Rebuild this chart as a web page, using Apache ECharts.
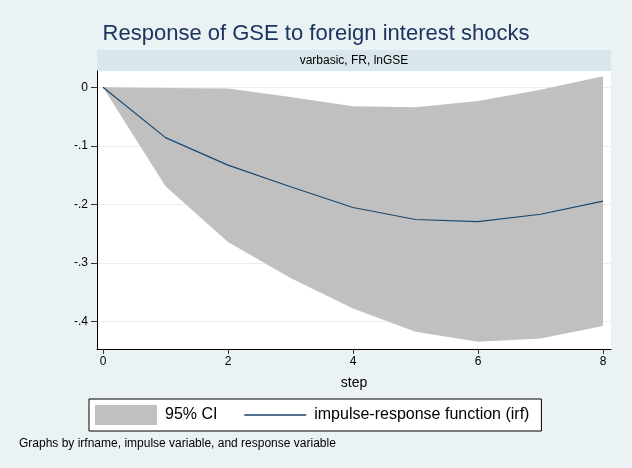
<!DOCTYPE html>
<html>
<head>
<meta charset="utf-8">
<script src="https://cdn.jsdelivr.net/npm/echarts@6/dist/echarts.min.js"></script>
<style>
  html, body { margin: 0; padding: 0; background: #EAF2F3; }
  #main { width: 632px; height: 468px; }
</style>
</head>
<body>
<div id="main"></div>
<script>
// irf step values
const steps = [0, 1, 2, 3, 4, 5, 6, 7, 8];
const irf = [0, -0.086, -0.133, -0.170, -0.2055, -0.226, -0.2295, -0.217, -0.1945];
const upper = [0, -0.001, -0.002, -0.0165, -0.0325, -0.034, -0.0235, -0.004, 0.0188];
const lower = [0, -0.169, -0.2645, -0.326, -0.378, -0.418, -0.435, -0.4296, -0.408];
const yTicks = [-0.4, -0.3, -0.2, -0.1, 0];
const xTicks = [0, 2, 4, 6, 8];

const FONT = 'Liberation Sans, Arial, sans-serif';
const NAVY = '#1A476F';
const TITLE = '#1E3460';
const BAND = '#C0C0C0';

const fmtY = v => (v === 0 ? '0' : v.toFixed(1).replace('0.', '.'));

// CI band as one polygon: upper edge forward, lower edge back
function renderBand(params, api) {
  if (params.dataIndex !== 0) return;
  const top = steps.map((s, i) => api.coord([s, upper[i]]));
  const bot = steps.map((s, i) => api.coord([s, lower[i]])).reverse();
  return {
    type: 'polygon',
    shape: { points: top.concat(bot) },
    style: { fill: BAND }
  };
}

const chart = echarts.init(document.getElementById('main'), null, { renderer: 'canvas' });

chart.setOption({
  backgroundColor: '#EAF2F3',
  animation: false,
  textStyle: { fontFamily: FONT },
  title: {
    text: 'Response of GSE to foreign interest shocks',
    left: 'center',
    top: 18,
    textStyle: { color: TITLE, fontSize: 22, fontWeight: 'normal', fontFamily: FONT }
  },
  graphic: [
    {
      type: 'rect',
      shape: { x: 97, y: 50, width: 514, height: 21 },
      style: { fill: '#D9E6EB' },
      z: 0
    },
    {
      type: 'text',
      x: 354, y: 60.5,
      style: {
        text: 'varbasic, FR, lnGSE', fill: '#000', fontSize: 12, fontFamily: FONT,
        align: 'center', verticalAlign: 'middle'
      }
    },
    {
      type: 'text',
      x: 19, y: 444,
      style: {
        text: 'Graphs by irfname, impulse variable, and response variable', fill: '#000',
        fontSize: 12, fontFamily: FONT, verticalAlign: 'middle'
      }
    }
  ],
  grid: {
    left: 97, top: 71, width: 514, height: 278,
    show: true, backgroundColor: '#FFFFFF', borderWidth: 0
  },
  legend: {
    left: 89, top: 399,
    padding: [6, 12, 6, 6],
    itemWidth: 62, itemHeight: 20, itemGap: 26,
    borderColor: '#000', borderWidth: 1, backgroundColor: '#FFFFFF',
    textStyle: { fontSize: 16, color: '#000', fontFamily: FONT, padding: [0, 0, 0, 3] },
    data: [
      { name: '95% CI', icon: 'rect', itemStyle: { color: BAND } },
      { name: 'impulse-response function (irf)', itemStyle: { opacity: 0 }, lineStyle: { width: 1.5 } }
    ]
  },
  xAxis: {
    type: 'value',
    min: -0.096, max: 8.128,
    name: 'step', nameLocation: 'middle', nameGap: 27,
    nameTextStyle: { fontSize: 14, color: '#000', fontFamily: FONT },
    axisLine: { show: true, onZero: false, lineStyle: { color: '#000', width: 1 } },
    axisTick: { show: true, length: 5, customValues: xTicks, lineStyle: { color: '#333' } },
    axisLabel: { customValues: xTicks, margin: 7, fontSize: 12, color: '#000', fontFamily: FONT },
    splitLine: { show: false }
  },
  yAxis: {
    type: 'value',
    min: -0.4474, max: 0.0279,
    axisLine: { show: true, onZero: false, lineStyle: { color: '#000', width: 1 } },
    axisTick: { show: true, length: 6, customValues: yTicks, lineStyle: { color: '#333' } },
    axisLabel: { customValues: yTicks, margin: 9, fontSize: 12, color: '#000', fontFamily: FONT, formatter: fmtY },
    splitLine: { show: true, customValues: yTicks, lineStyle: { color: '#E6EFF1', width: 1 } }
  },
  series: [
    {
      name: '95% CI',
      type: 'custom',
      data: steps.map((s, i) => [s, upper[i], lower[i]]),
      encode: { x: 0, y: [1, 2] },
      renderItem: renderBand,
      itemStyle: { color: BAND },
      silent: true,
      z: 2
    },
    {
      name: 'impulse-response function (irf)',
      type: 'line',
      data: steps.map((s, i) => [s, irf[i]]),
      symbol: 'none',
      itemStyle: { color: NAVY },
      lineStyle: { color: NAVY, width: 1.2 },
      z: 3
    }
  ]
});
</script>
</body>
</html>
